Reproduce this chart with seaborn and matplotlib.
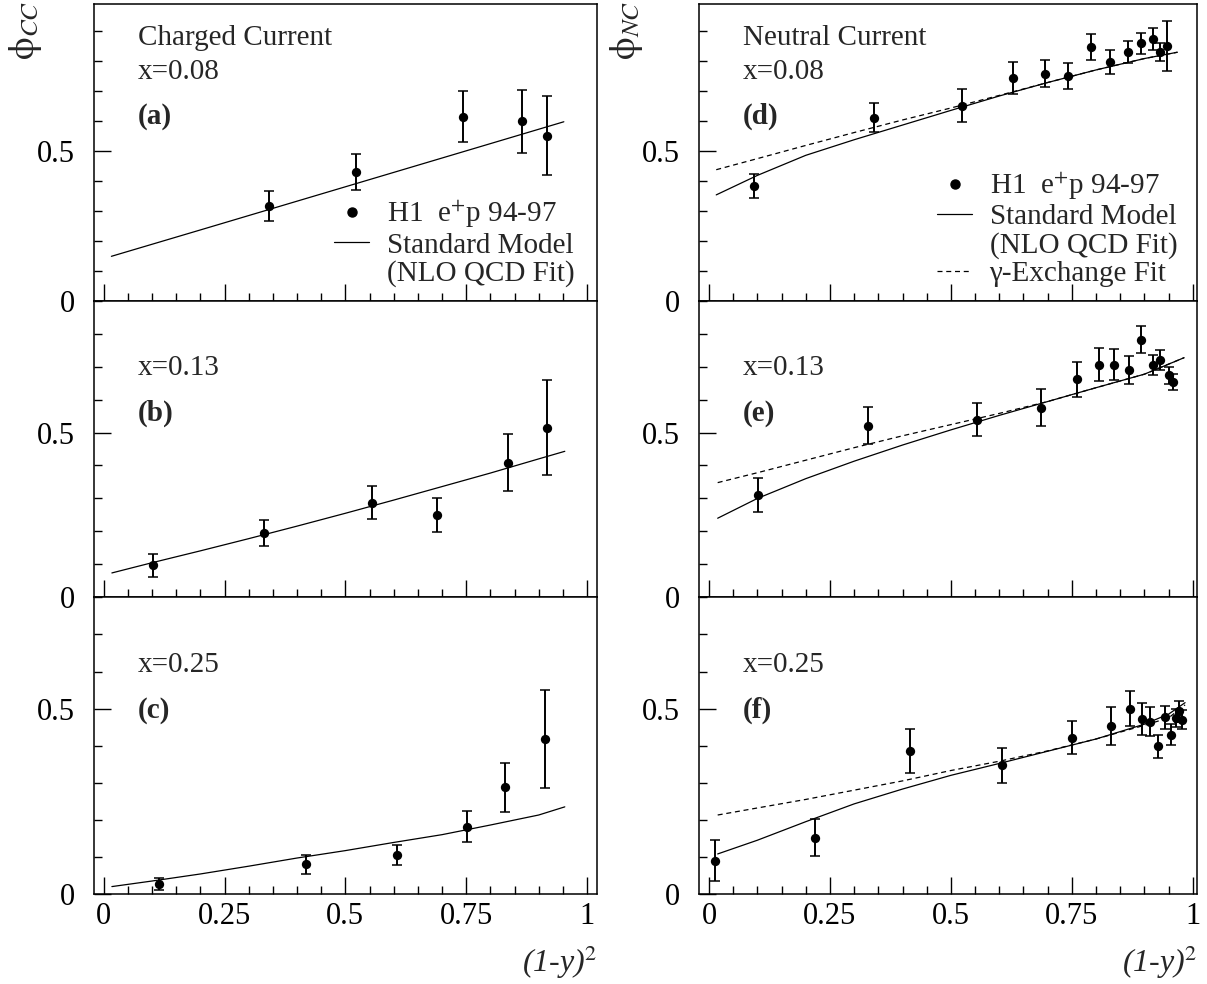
import numpy as np
import pandas as pd
import seaborn as sns
import matplotlib.pyplot as plt
from matplotlib.ticker import MultipleLocator, FixedLocator
from matplotlib.lines import Line2D

# ---------------- data
# (a) charged current, x=0.08
a_x = [0.342, 0.523, 0.743, 0.866, 0.918]
a_y = [0.317, 0.429, 0.614, 0.599, 0.551]
a_err = [0.050, 0.060, 0.085, 0.105, 0.133]
a_sm_x = [0.016, 0.2, 0.4, 0.6, 0.8, 0.952]
a_sm_y = [0.148, 0.236, 0.332, 0.428, 0.524, 0.597]

# (b) charged current, x=0.13
b_x = [0.103, 0.331, 0.555, 0.689, 0.837, 0.917]
b_y = [0.097, 0.195, 0.287, 0.250, 0.409, 0.515]
b_err = [0.034, 0.040, 0.050, 0.051, 0.087, 0.144]
b_sm_x = [0.017, 0.1, 0.2, 0.3, 0.4, 0.5, 0.6, 0.7, 0.8, 0.9, 0.954]
b_sm_y = [0.074, 0.105, 0.141, 0.178, 0.216, 0.255, 0.295, 0.336, 0.377, 0.420, 0.443]

# (c) charged current, x=0.25
c_x = [0.114, 0.419, 0.607, 0.752, 0.830, 0.914]
c_y = [0.026, 0.080, 0.104, 0.181, 0.288, 0.417]
c_err = [0.016, 0.026, 0.027, 0.042, 0.066, 0.132]
c_sm_x = [0.017, 0.1, 0.2, 0.3, 0.4, 0.5, 0.6, 0.7, 0.8, 0.9, 0.954]
c_sm_y = [0.020, 0.035, 0.054, 0.075, 0.097, 0.117, 0.139, 0.160, 0.186, 0.213, 0.235]

# (d) neutral current, x=0.08
d_x = [0.094, 0.341, 0.522, 0.628, 0.694, 0.742, 0.790, 0.828, 0.865, 0.892, 0.918, 0.932, 0.946]
d_y = [0.384, 0.611, 0.650, 0.743, 0.758, 0.749, 0.847, 0.796, 0.829, 0.859, 0.873, 0.829, 0.851]
d_err = [0.040, 0.048, 0.055, 0.053, 0.046, 0.043, 0.043, 0.040, 0.037, 0.035, 0.038, 0.030, 0.083]
d_sm_x = [0.015, 0.1, 0.2, 0.3, 0.4, 0.5, 0.6, 0.7, 0.8, 0.9, 0.968]
d_sm_y = [0.353, 0.418, 0.485, 0.537, 0.586, 0.635, 0.683, 0.728, 0.770, 0.808, 0.829]
d_gam_y = [0.437, 0.474, 0.518, 0.561, 0.603, 0.643, 0.685, 0.728, 0.770, 0.808, 0.829]

# (e) neutral current, x=0.13
e_x = [0.101, 0.329, 0.553, 0.687, 0.761, 0.806, 0.837, 0.868, 0.892, 0.917, 0.933, 0.950, 0.958]
e_y = [0.311, 0.520, 0.539, 0.575, 0.662, 0.706, 0.706, 0.690, 0.782, 0.705, 0.720, 0.673, 0.654]
e_err = [0.051, 0.056, 0.050, 0.056, 0.053, 0.050, 0.046, 0.043, 0.040, 0.030, 0.030, 0.027, 0.025]
e_sm_x = [0.018, 0.1, 0.2, 0.3, 0.4, 0.5, 0.6, 0.7, 0.8, 0.9, 0.982]
e_sm_y = [0.240, 0.300, 0.360, 0.413, 0.462, 0.508, 0.552, 0.594, 0.636, 0.677, 0.727]
e_gam_y = [0.348, 0.378, 0.416, 0.454, 0.490, 0.524, 0.558, 0.594, 0.636, 0.677, 0.727]

# (f) neutral current, x=0.25
f_x = [0.013, 0.220, 0.416, 0.606, 0.751, 0.830, 0.871, 0.895, 0.912, 0.929, 0.942, 0.955, 0.965, 0.971, 0.978]
f_y = [0.090, 0.152, 0.385, 0.347, 0.422, 0.453, 0.500, 0.472, 0.465, 0.399, 0.476, 0.430, 0.474, 0.493, 0.470]
f_err = [0.056, 0.050, 0.059, 0.048, 0.044, 0.050, 0.048, 0.043, 0.038, 0.031, 0.031, 0.028, 0.025, 0.028, 0.025]
f_sm_x = [0.018, 0.1, 0.2, 0.3, 0.4, 0.5, 0.6, 0.7, 0.8, 0.9, 0.95, 0.984]
f_sm_y = [0.108, 0.145, 0.195, 0.243, 0.283, 0.320, 0.352, 0.385, 0.418, 0.458, 0.485, 0.516]
f_gam_y = [0.213, 0.232, 0.255, 0.280, 0.305, 0.333, 0.358, 0.386, 0.418, 0.455, 0.475, 0.510]

row_ymax = [0.99, 0.9, 0.8]
x_bins = ['x=0.08', 'x=0.13', 'x=0.25']
xtick_pos = [0, 0.25, 0.5, 0.75, 1]
xtick_labels = ['0', '0.25', '0.5', '0.75', '1']
ytick_pos = [0, 0.5]
ytick_labels = ['0', '0.5']

sns.set_theme(style='white')
plt.rcParams['font.family'] = ['Liberation Serif', 'DejaVu Serif']
plt.rcParams['mathtext.fontset'] = 'stix'
plt.rcParams['axes.edgecolor'] = 'black'
plt.rcParams['axes.linewidth'] = 1.1

fig = plt.figure(figsize=(12.07, 9.84), dpi=100)

panels = [
    # col, row, tag, x, y, err, model x, model y, gamma y
    (0, 0, '(a)', a_x, a_y, a_err, a_sm_x, a_sm_y, None),
    (0, 1, '(b)', b_x, b_y, b_err, b_sm_x, b_sm_y, None),
    (0, 2, '(c)', c_x, c_y, c_err, c_sm_x, c_sm_y, None),
    (1, 0, '(d)', d_x, d_y, d_err, d_sm_x, d_sm_y, d_gam_y),
    (1, 1, '(e)', e_x, e_y, e_err, e_sm_x, e_sm_y, e_gam_y),
    (1, 2, '(f)', f_x, f_y, f_err, f_sm_x, f_sm_y, f_gam_y),
]

col_left = [94 / 1207, 699.3 / 1207]
col_width = [502.7 / 1207, 497.4 / 1207]
col_xlim = [(-0.02, 1.02), (-0.02, 1.008)]
top, bottom = 1 - 4 / 984, 1 - 894 / 984
row_h = (top - bottom) / 3

for col, row, tag, px, py, pe, mx, my, gy in panels:
    ax = fig.add_axes([col_left[col], top - (row + 1) * row_h, col_width[col], row_h])

    pts = pd.DataFrame({'x': px, 'y': py, 'err': pe})
    ax.errorbar(pts['x'], pts['y'], yerr=pts['err'], fmt='none', ecolor='black',
                elinewidth=1.4, capsize=3.5, capthick=1.1, zorder=3)
    sns.scatterplot(data=pts, x='x', y='y', ax=ax, color='black', s=45,
                    linewidth=0, zorder=4, legend=False)
    sns.lineplot(x=mx, y=my, ax=ax, color='black', lw=0.9, estimator=None, sort=False)
    if gy is not None:
        sns.lineplot(x=mx, y=gy, ax=ax, color='black', lw=0.9, ls=(0, (4, 3)),
                     estimator=None, sort=False)

    ax.set_xlim(*col_xlim[col])
    ax.set_ylim(0, row_ymax[row])
    ax.xaxis.set_major_locator(FixedLocator(xtick_pos))
    ax.xaxis.set_minor_locator(MultipleLocator(0.05))
    ax.yaxis.set_major_locator(FixedLocator(ytick_pos))
    ax.yaxis.set_minor_locator(MultipleLocator(0.1))
    ax.tick_params(which='both', direction='in', top=False, right=False,
                   left=True, bottom=True, width=1.0, colors='black')
    ax.tick_params(which='major', length=12, labelsize=22)
    ax.tick_params(which='minor', length=6)
    ax.tick_params(axis='y', pad=14)
    ax.tick_params(axis='x', pad=6)
    ax.set_yticklabels(ytick_labels)
    if row == 2:
        ax.set_xticklabels(xtick_labels)
        ax.set_xlabel('(1-y)$^{\\mathit{2}}$', fontsize=23, style='italic', loc='right')
        ax.xaxis.set_label_coords(1.0, -0.168)
    else:
        ax.set_xticklabels([])
        ax.set_xlabel('')
    ax.set_ylabel('')

    if row == 0:
        ax.set_ylabel(r'$\mathrm{\phi}_{CC}$' if col == 0 else r'$\mathrm{\phi}_{NC}$',
                      fontsize=26, loc='top')
        ax.yaxis.set_label_coords(-0.10 if col == 0 else -0.11, 1.01)
        ax.text(0.0875, 0.885, 'Charged Current' if col == 0 else 'Neutral Current',
                transform=ax.transAxes, fontsize=21, va='center')

    ax.text(0.0875, 0.772, x_bins[row], transform=ax.transAxes, fontsize=21, va='center')
    ax.text(0.0875, 0.62, tag, transform=ax.transAxes, fontsize=21, va='center',
            fontweight='bold')

    if row == 0:
        handles = [Line2D([], [], ls='none', marker='o', color='black', ms=6.5),
                   Line2D([], [], color='black', lw=0.9),
                   Line2D([], [], color='none')]
        labels = ['H1  e$^{+}$p 94-97', 'Standard Model', '(NLO QCD Fit)']
        if col == 1:
            handles.append(Line2D([], [], color='black', lw=0.9, ls=(0, (4, 3))))
            labels.append('γ-Exchange Fit')
        ax.legend(handles, labels, loc='upper left',
                  bbox_to_anchor=(0.478, 0.345 if col == 0 else 0.44),
                  frameon=False, fontsize=21, handlelength=1.2, handletextpad=0.6,
                  labelspacing=0.05, borderpad=0, borderaxespad=0)

fig.savefig('out.png', dpi=100)
